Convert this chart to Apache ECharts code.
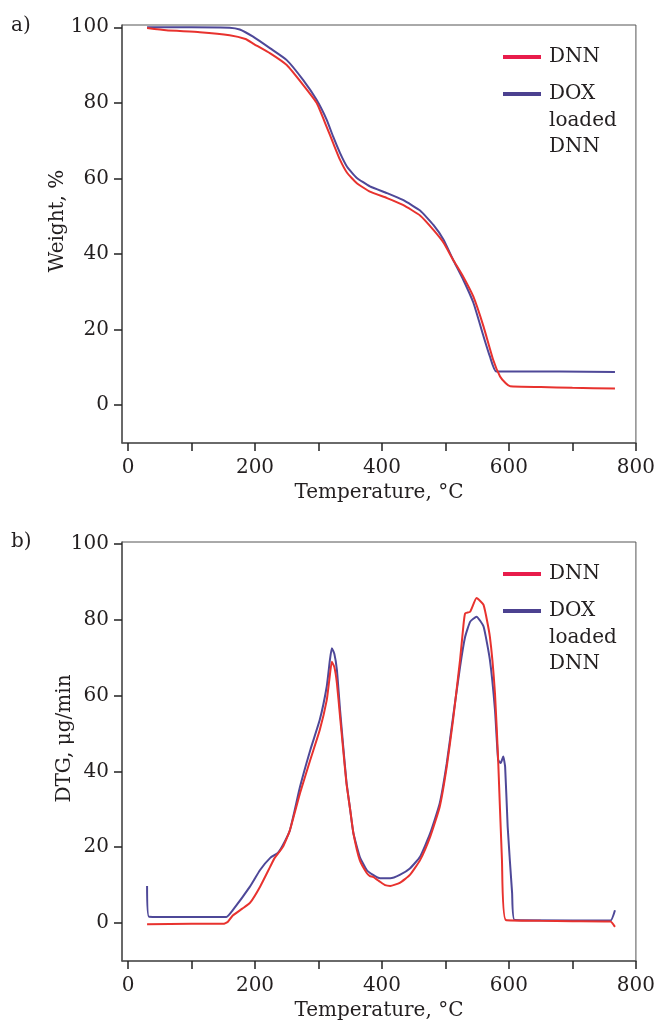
<!DOCTYPE html>
<html>
<head>
<meta charset="utf-8">
<script src="https://cdn.jsdelivr.net/npm/echarts@6/dist/echarts.min.js"></script>
<style>
html,body{margin:0;padding:0;background:#fff;}
#chart{width:658px;height:1024px;}
</style>
</head>
<body>
<div id="chart"></div>
<script>
// ---- Data ----
const seriesNames = ['DNN', 'DOX loaded DNN'];

// Panel a) TGA: Weight, %
const tgaDnnT = [30, 60, 113, 160, 185, 197, 224, 250, 276, 297, 313, 323, 334, 345, 360, 381, 408, 433, 460, 481, 497, 512, 528, 544, 560, 575, 586, 595, 602, 650, 700, 767];
const tgaDnnW = [99.8, 99.2, 98.7, 97.9, 96.9, 95.7, 93.1, 90.0, 84.7, 80.0, 73.6, 69.4, 64.9, 61.5, 58.8, 56.5, 54.8, 53.0, 50.2, 46.4, 43.0, 38.5, 34.0, 28.7, 20.8, 12.1, 7.6, 5.8, 5.0, 4.8, 4.6, 4.4];

const tgaDoxT = [30, 100, 160, 176, 197, 224, 250, 276, 297, 313, 323, 334, 345, 360, 381, 408, 433, 460, 481, 497, 512, 528, 544, 560, 570, 580, 680, 767];
const tgaDoxW = [100.0, 100.0, 99.9, 99.4, 97.5, 94.4, 91.3, 86.0, 80.8, 75.5, 71.1, 66.7, 63.1, 60.2, 57.9, 56.1, 54.3, 51.5, 47.7, 43.8, 38.5, 33.2, 27.1, 18.2, 12.9, 8.9, 8.9, 8.8];

// Panel b) DTG, µg/min
const dtgDnnT = [30, 100, 150, 157, 165, 180, 192, 208, 224, 231, 244, 255, 271, 287, 302, 313, 317, 321, 325, 329, 334, 339, 344, 350, 355, 365, 376, 381, 386, 397, 405, 413, 428, 444, 460, 476, 491, 502, 512, 523, 528, 531, 539, 549, 560, 570, 578, 583, 589, 595, 650, 700, 760, 767];
const dtgDnnV = [-0.3, -0.2, -0.2, 0.3, 2.0, 3.8, 5.3, 9.6, 14.9, 17.2, 20.1, 24.5, 34.3, 43.0, 50.9, 58.8, 64.1, 68.9, 67.5, 63.3, 54.4, 45.6, 36.9, 29.8, 23.7, 16.6, 13.2, 12.4, 12.2, 10.9, 10.0, 9.8, 10.6, 12.7, 16.6, 22.8, 30.7, 41.2, 53.6, 69.4, 78.0, 81.7, 82.1, 85.7, 83.9, 75.5, 60.6, 43.0, 16.6, 0.8, 0.6, 0.5, 0.4, -1.0];

const dtgDoxT = [30, 33, 100, 155, 165, 192, 208, 224, 236, 244, 255, 271, 287, 302, 313, 318, 321, 325, 329, 334, 339, 344, 350, 355, 365, 376, 386, 397, 413, 428, 444, 460, 476, 491, 502, 512, 523, 531, 539, 549, 560, 570, 578, 583, 587, 591, 594, 598, 605, 609, 700, 760, 767];
const dtgDoxV = [9.8, 1.7, 1.6, 1.6, 3.4, 9.6, 14.0, 17.2, 18.5, 20.6, 24.5, 36.0, 45.6, 53.6, 62.4, 69.4, 72.5, 71.0, 66.8, 56.2, 46.5, 37.3, 29.8, 23.7, 17.5, 14.0, 12.7, 11.8, 11.8, 12.7, 14.4, 17.5, 23.7, 31.6, 42.1, 54.4, 67.6, 75.5, 79.5, 80.8, 78.2, 69.4, 56.2, 43.0, 42.2, 43.9, 41.2, 25.4, 7.9, 0.8, 0.7, 0.7, 3.4];

// Tick values
const xTickValues = [0, 100, 200, 300, 400, 500, 600, 700, 800];
const xLabelValues = [0, 200, 400, 600, 800];
const yTickValues = [0, 20, 40, 60, 80, 100];

const axisTitles = { x: 'Temperature, °C', yA: 'Weight, %', yB: 'DTG, μg/min' };
const panelLabels = ['a)', 'b)'];
const legendLabels = ['DNN', 'DOX\nloaded\nDNN'];

// ---- Styling ----
const FONT = 'DejaVu Serif';
const TXT = '#231f20';
const RED = '#e8322e';
const BLUE = '#4e4898';
const LEG_RED = '#e81c4b';
const LEG_BLUE = '#4c4190';

function zip(xs, ys) { return xs.map((x, i) => [x, ys[i]]); }

function xAxisFor(gi) {
  return {
    type: 'value', gridIndex: gi, min: -9.5, max: 800,
    axisLine: { show: true, onZero: false, lineStyle: { color: '#555', width: 1.5 } },
    axisTick: { show: true, inside: false, length: 8, lineStyle: { color: '#222', width: 1.5 }, customValues: xTickValues },
    axisLabel: { customValues: xLabelValues, fontFamily: FONT, fontSize: 20, color: TXT, margin: 15 },
    splitLine: { show: false },
    name: axisTitles.x, nameLocation: 'middle', nameGap: 40, nameMoveOverlap: false,
    nameTextStyle: { fontFamily: FONT, fontSize: 20, color: TXT }
  };
}
function yAxisFor(gi, name, gap, maxV) {
  return {
    type: 'value', gridIndex: gi, min: -10, max: maxV,
    axisLine: { show: true, onZero: false, lineStyle: { color: '#555', width: 1.5 } },
    axisTick: { show: true, inside: false, length: 8, lineStyle: { color: '#222', width: 1.5 }, customValues: yTickValues },
    axisLabel: { customValues: yTickValues, fontFamily: FONT, fontSize: 20, color: TXT, margin: 13 },
    splitLine: { show: false },
    name: name, nameLocation: 'middle', nameGap: gap, nameMoveOverlap: false,
    nameTextStyle: { fontFamily: FONT, fontSize: 20, color: TXT, padding: [0, 0, 0, 26] }
  };
}
function lineSeries(name, gi, data, color) {
  return {
    name: name, type: 'line', xAxisIndex: gi, yAxisIndex: gi,
    data: data, showSymbol: false, symbol: 'none', smooth: 0.15,
    lineStyle: { color: color, width: 2 }, itemStyle: { color: color },
    animation: false
  };
}
function legendGraphics(y1, y2) {
  const font = '20px "' + FONT + '"';
  return [
    { type: 'rect', shape: { x: 503, y: y1 - 2, width: 38, height: 4 }, style: { fill: LEG_RED } },
    { type: 'text', style: { x: 549, y: y1 - 13.25, text: legendLabels[0], font: font, fill: TXT, lineHeight: 26.5, verticalAlign: 'top' } },
    { type: 'rect', shape: { x: 503, y: y2 - 2, width: 38, height: 4 }, style: { fill: LEG_BLUE } },
    { type: 'text', style: { x: 549, y: y2 - 13.25, text: legendLabels[1], font: font, fill: TXT, lineHeight: 26.5, verticalAlign: 'top' } }
  ];
}

const option = {
  backgroundColor: '#fff',
  animation: false,
  title: [
    { text: panelLabels[0], left: 11, top: 16, padding: 0, textStyle: { fontFamily: FONT, fontSize: 20, fontWeight: 'normal', color: TXT } },
    { text: panelLabels[1], left: 11, top: 532, padding: 0, textStyle: { fontFamily: FONT, fontSize: 20, fontWeight: 'normal', color: TXT } }
  ],
  graphic: legendGraphics(57, 94).concat(legendGraphics(574, 611)),
  grid: [
    { left: 122, right: 22, top: 25, height: 418, show: true, borderColor: '#555', borderWidth: 1 },
    { left: 122, right: 22, top: 542, height: 419, show: true, borderColor: '#555', borderWidth: 1 }
  ],
  xAxis: [xAxisFor(0), xAxisFor(1)],
  yAxis: [yAxisFor(0, axisTitles.yA, 54, 100.6), yAxisFor(1, axisTitles.yB, 47, 100.5)],
  series: [
    lineSeries(seriesNames[1], 0, zip(tgaDoxT, tgaDoxW), BLUE),
    lineSeries(seriesNames[0], 0, zip(tgaDnnT, tgaDnnW), RED),
    lineSeries(seriesNames[1], 1, zip(dtgDoxT, dtgDoxV), BLUE),
    lineSeries(seriesNames[0], 1, zip(dtgDnnT, dtgDnnV), RED)
  ]
};

const chart = echarts.init(document.getElementById('chart'), null, { renderer: 'canvas' });
chart.setOption(option);
</script>
</body>
</html>
